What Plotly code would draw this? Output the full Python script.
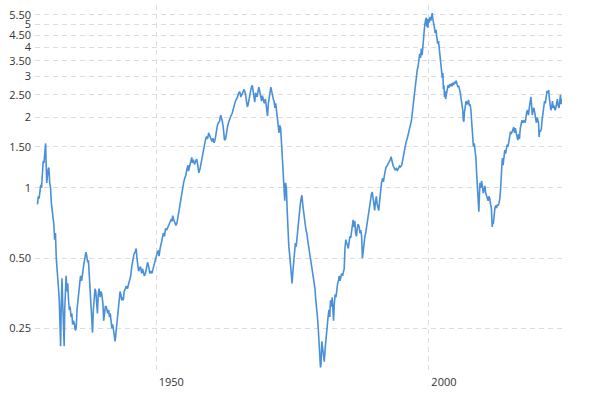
import plotly.graph_objects as go

years = [
1928.2,1928.35,1928.5,1928.65,1928.8,1928.95,1929.1,1929.25,1929.4,1929.55,1929.7,1929.8,1929.9,1930.0,1930.15,1930.3,1930.45,1930.6,1930.75,1930.9,
1931.05,1931.2,1931.35,1931.5,1931.65,1931.8,1931.95,1932.1,1932.2,1932.35,1932.45,1932.55,1932.7,1932.8,1932.9,1933.0,1933.1,1933.2,1933.3,1933.45,
1933.6,1933.75,1933.9,1934.05,1934.2,1934.35,1934.5,1934.65,1934.8,1935.0,1935.15,1935.3,1935.45,1935.6,1935.75,1935.9,1936.1,1936.3,1936.5,1936.7,
1936.9,1937.1,1937.25,1937.4,1937.55,1937.7,1937.85,1938.0,1938.15,1938.3,1938.45,1938.6,1938.75,1938.9,1939.05,1939.2,1939.35,1939.5,1939.7,1939.85,
1940.0,1940.2,1940.35,1940.5,1940.65,1940.8,1940.95,1941.1,1941.25,1941.4,1941.55,1941.7,1941.85,1942.0,1942.15,1942.3,1942.45,1942.6,1942.75,1942.9,
1943.05,1943.2,1943.35,1943.5,1943.65,1943.8,1943.95,1944.1,1944.3,1944.5,1944.7,1944.9,1945.1,1945.3,1945.5,1945.7,1945.9,1946.1,1946.3,1946.45,
1946.6,1946.75,1946.9,1947.1,1947.3,1947.45,1947.6,1947.8,1948.0,1948.2,1948.4,1948.6,1948.8,1949.0,1949.2,1949.4,1949.6,1949.8,1950.0,1950.2,
1950.4,1950.5,1950.7,1950.9,1951.1,1951.3,1951.5,1951.7,1951.9,1952.1,1952.3,1952.5,1952.7,1952.9,1953.0,1953.2,1953.4,1953.6,1953.8,1954.0,
1954.2,1954.4,1954.6,1954.8,1955.0,1955.2,1955.4,1955.6,1955.8,1955.9,1956.1,1956.3,1956.5,1956.6,1956.8,1957.0,1957.2,1957.4,1957.6,1957.8,
1958.0,1958.2,1958.4,1958.6,1958.8,1959.0,1959.2,1959.4,1959.6,1959.8,1960.0,1960.2,1960.4,1960.6,1960.8,1961.0,1961.2,1961.4,1961.6,1961.8,
1961.95,1962.1,1962.3,1962.5,1962.7,1962.9,1963.1,1963.3,1963.5,1963.7,1963.9,1964.1,1964.3,1964.5,1964.7,1964.9,1965.1,1965.3,1965.5,1965.7,
1965.9,1966.1,1966.3,1966.5,1966.7,1966.85,1967.0,1967.2,1967.4,1967.6,1967.75,1967.9,1968.05,1968.2,1968.35,1968.5,1968.65,1968.8,1968.95,1969.1,
1969.3,1969.45,1969.6,1969.8,1970.0,1970.2,1970.4,1970.55,1970.7,1970.85,1971.0,1971.15,1971.3,1971.45,1971.6,1971.75,1971.9,1972.05,1972.2,1972.35,
1972.5,1972.65,1972.8,1973.0,1973.15,1973.3,1973.45,1973.55,1973.7,1973.85,1974.0,1974.15,1974.3,1974.45,1974.6,1974.75,1974.9,1975.05,1975.2,1975.35,
1975.5,1975.65,1975.8,1975.95,1976.1,1976.25,1976.4,1976.55,1976.7,1976.85,1977.0,1977.15,1977.3,1977.45,1977.6,1977.75,1977.9,1978.05,1978.2,1978.35,
1978.5,1978.65,1978.8,1978.95,1979.1,1979.25,1979.4,1979.55,1979.7,1979.85,1980.0,1980.1,1980.2,1980.35,1980.5,1980.65,1980.8,1981.0,1981.2,1981.35,
1981.5,1981.65,1981.8,1981.95,1982.1,1982.25,1982.4,1982.5,1982.65,1982.8,1982.95,1983.1,1983.25,1983.4,1983.55,1983.7,1983.85,1984.0,1984.15,1984.3,
1984.45,1984.6,1984.75,1984.9,1985.05,1985.2,1985.35,1985.5,1985.65,1985.8,1985.95,1986.1,1986.25,1986.4,1986.55,1986.7,1986.85,1987.0,1987.2,1987.35,
1987.5,1987.65,1987.8,1987.95,1988.1,1988.25,1988.4,1988.55,1988.7,1988.85,1989.0,1989.15,1989.3,1989.45,1989.6,1989.75,1989.9,1990.05,1990.2,1990.35,
1990.5,1990.65,1990.8,1990.95,1991.1,1991.3,1991.5,1991.65,1991.8,1991.95,1992.1,1992.3,1992.5,1992.7,1992.9,1993.05,1993.2,1993.4,1993.6,1993.8,
1994.0,1994.2,1994.4,1994.6,1994.8,1995.0,1995.2,1995.4,1995.6,1995.8,1996.0,1996.2,1996.4,1996.6,1996.8,1997.0,1997.2,1997.4,1997.55,1997.7,
1997.85,1998.0,1998.15,1998.3,1998.45,1998.6,1998.75,1998.9,1999.05,1999.2,1999.35,1999.5,1999.6,1999.7,1999.8,1999.9,2000.05,2000.2,2000.35,2000.5,
2000.6,2000.7,2000.85,2001.0,2001.15,2001.3,2001.45,2001.6,2001.75,2001.9,2002.05,2002.2,2002.35,2002.45,2002.55,2002.65,2002.75,2002.85,2002.95,2003.05,
2003.2,2003.35,2003.5,2003.65,2003.8,2003.95,2004.1,2004.25,2004.4,2004.55,2004.7,2004.85,2005.0,2005.15,2005.3,2005.45,2005.6,2005.75,2005.9,2006.05,
2006.2,2006.3,2006.4,2006.5,2006.65,2006.8,2006.95,2007.1,2007.25,2007.4,2007.55,2007.7,2007.85,2008.0,2008.15,2008.3,2008.45,2008.6,2008.75,2008.85,
2008.95,2009.05,2009.15,2009.25,2009.35,2009.5,2009.65,2009.8,2009.95,2010.1,2010.25,2010.4,2010.55,2010.7,2010.85,2011.0,2011.15,2011.3,2011.45,2011.6,
2011.7,2011.8,2011.95,2012.1,2012.25,2012.4,2012.55,2012.7,2012.85,2013.0,2013.15,2013.3,2013.45,2013.6,2013.75,2013.9,2014.05,2014.2,2014.35,2014.5,
2014.65,2014.8,2014.95,2015.1,2015.25,2015.4,2015.55,2015.7,2015.85,2016.0,2016.15,2016.3,2016.45,2016.6,2016.75,2016.9,2017.05,2017.2,2017.35,2017.5,
2017.65,2017.8,2017.95,2018.1,2018.25,2018.4,2018.55,2018.7,2018.8,2018.95,2019.1,2019.25,2019.4,2019.55,2019.7,2019.85,2020.0,2020.1,2020.2,2020.3,
2020.45,2020.6,2020.75,2020.9,2021.05,2021.2,2021.35,2021.5,2021.65,2021.8,2021.95,2022.1,2022.2,2022.35,2022.5,2022.65,2022.8,2022.95,2023.1,2023.25,
2023.4,2023.55,2023.7,2023.85,2024.0,2024.12,2024.22,2024.32,2024.4,
]

ratio = [
0.85,0.92,0.90,0.97,1.03,1.00,1.25,1.30,1.28,1.40,1.55,1.25,1.05,1.10,1.20,1.22,1.05,1.00,0.86,0.80,
0.74,0.70,0.60,0.64,0.50,0.43,0.40,0.36,0.33,0.27,0.21,0.30,0.41,0.34,0.30,0.26,0.21,0.30,0.40,0.42,
0.36,0.39,0.33,0.30,0.31,0.28,0.29,0.26,0.27,0.26,0.245,0.25,0.30,0.33,0.36,0.38,0.42,0.40,0.45,0.47,
0.50,0.53,0.51,0.48,0.49,0.43,0.35,0.31,0.26,0.24,0.30,0.34,0.37,0.36,0.33,0.29,0.35,0.37,0.34,0.36,
0.35,0.32,0.27,0.30,0.31,0.31,0.30,0.29,0.30,0.28,0.29,0.27,0.25,0.26,0.24,0.23,0.22,0.24,0.26,0.28,
0.31,0.34,0.36,0.35,0.33,0.34,0.33,0.36,0.37,0.38,0.37,0.39,0.41,0.42,0.46,0.49,0.52,0.53,0.55,0.50,
0.46,0.44,0.45,0.46,0.43,0.45,0.44,0.42,0.43,0.45,0.48,0.46,0.43,0.44,0.43,0.45,0.47,0.48,0.50,0.53,
0.54,0.51,0.55,0.58,0.62,0.64,0.62,0.67,0.66,0.68,0.69,0.71,0.73,0.72,0.76,0.73,0.71,0.69,0.71,0.76,
0.82,0.86,0.92,0.97,1.05,1.10,1.13,1.20,1.25,1.18,1.24,1.30,1.35,1.28,1.32,1.26,1.30,1.33,1.25,1.16,
1.20,1.27,1.35,1.45,1.55,1.60,1.66,1.62,1.72,1.66,1.62,1.58,1.63,1.56,1.62,1.75,1.85,1.90,1.93,2.05,
2.00,1.93,1.80,1.60,1.62,1.75,1.85,1.92,2.00,2.04,2.08,2.18,2.28,2.35,2.40,2.45,2.55,2.58,2.45,2.52,
2.62,2.64,2.55,2.40,2.22,2.28,2.40,2.55,2.68,2.75,2.60,2.40,2.33,2.55,2.50,2.45,2.58,2.70,2.60,2.45,
2.35,2.48,2.38,2.30,2.40,2.25,2.03,2.30,2.40,2.55,2.70,2.60,2.45,2.40,2.35,2.20,2.30,2.15,2.00,1.85,
1.72,1.85,1.80,1.50,1.30,1.10,0.95,0.88,1.05,1.00,0.80,0.65,0.56,0.52,0.47,0.42,0.39,0.44,0.50,0.55,
0.58,0.56,0.62,0.68,0.75,0.80,0.85,0.90,0.93,0.85,0.78,0.72,0.70,0.66,0.64,0.60,0.57,0.55,0.52,0.48,
0.46,0.44,0.41,0.40,0.37,0.33,0.31,0.28,0.25,0.22,0.19,0.17,0.175,0.22,0.20,0.19,0.18,0.21,0.24,0.27,
0.28,0.30,0.28,0.33,0.31,0.34,0.30,0.27,0.32,0.35,0.34,0.37,0.39,0.40,0.42,0.40,0.42,0.43,0.42,0.44,
0.45,0.55,0.60,0.58,0.57,0.55,0.59,0.62,0.61,0.66,0.70,0.73,0.68,0.72,0.64,0.62,0.67,0.70,0.68,0.64,
0.66,0.62,0.50,0.55,0.58,0.62,0.64,0.68,0.70,0.74,0.80,0.86,0.90,0.94,0.96,0.88,0.84,0.80,0.88,0.92,
0.85,0.82,0.80,0.88,0.96,1.05,1.10,1.06,1.12,1.20,1.22,1.24,1.27,1.28,1.32,1.36,1.30,1.25,1.22,1.19,
1.21,1.19,1.21,1.24,1.23,1.25,1.32,1.42,1.52,1.57,1.62,1.70,1.74,1.82,1.95,2.15,2.35,2.60,2.90,3.10,
3.20,3.30,3.50,3.75,3.60,3.95,3.70,4.20,4.60,4.90,5.20,5.35,4.90,5.30,4.85,5.30,5.10,5.40,5.20,5.45,
5.60,5.30,4.95,4.85,4.60,4.75,4.40,4.15,4.25,3.90,3.70,3.40,3.20,2.95,3.10,2.65,2.75,2.45,2.60,2.40,
2.55,2.70,2.75,2.68,2.78,2.72,2.80,2.72,2.82,2.76,2.85,2.80,2.88,2.78,2.70,2.74,2.65,2.55,2.40,2.30,
2.15,1.95,1.92,2.10,2.20,2.35,2.28,2.30,2.38,2.25,2.28,2.15,1.90,1.70,1.50,1.55,1.45,1.35,1.15,1.05,
0.98,0.95,0.79,0.92,1.05,1.00,1.07,1.02,0.95,0.98,1.02,0.95,0.92,0.90,0.88,0.92,0.90,0.85,0.82,0.68,
0.72,0.70,0.78,0.82,0.84,0.82,0.85,0.84,0.86,0.90,1.00,1.20,1.34,1.25,1.35,1.45,1.40,1.45,1.53,1.50,
1.58,1.65,1.74,1.70,1.75,1.78,1.82,1.72,1.80,1.72,1.65,1.60,1.70,1.62,1.80,1.92,1.95,1.90,1.93,1.95,
1.90,2.05,2.12,2.15,2.05,2.20,2.30,2.45,2.30,2.05,2.15,2.20,2.10,1.95,1.90,2.00,1.95,1.90,1.65,1.75,
1.75,1.78,1.95,2.05,2.15,2.35,2.30,2.45,2.60,2.55,2.62,2.40,2.25,2.15,2.20,2.35,2.20,2.25,2.15,2.18,
2.30,2.40,2.25,2.20,2.35,2.50,2.28,2.40,2.30,
]

tick_vals = [0.25, 0.5, 1, 1.5, 2, 2.5, 3, 3.5, 4, 4.5, 5, 5.5]
tick_text = ["0.25", "0.50", "1", "1.50", "2", "2.50", "3", "3.50", "4", "4.50", "5", "5.50"]
x_ticks = [1950, 2000]
x_tick_text = ["1950", "2000"]

fig = go.Figure()
fig.add_trace(go.Scatter(
    x=years, y=ratio, mode="lines",
    line=dict(color="#4a90d9", width=1.6),
    hoverinfo="skip", showlegend=False,
))

grid = "#dcdcdc"
fig.update_layout(
    width=600, height=399, autosize=False,
    margin=dict(l=35, r=38, t=5, b=29, pad=0),
    paper_bgcolor="white", plot_bgcolor="white",
    font=dict(family="Open Sans, DejaVu Sans, sans-serif", size=11, color="#333333"),
    xaxis=dict(
        range=[1927.75, 2024.4], automargin=False,
        tickvals=x_ticks, ticktext=x_tick_text,
        showgrid=True, gridcolor=grid, griddash="5px,4px", gridwidth=1,
        zeroline=False, showline=False, ticks="",
        ticklabelshift=15, ticklabelstandoff=4,
    ),
    yaxis=dict(
        type="log", range=[-0.780, 0.783], automargin=False,
        tickvals=tick_vals, ticktext=tick_text,
        showgrid=True, gridcolor=grid, griddash="5px,4px", gridwidth=1,
        zeroline=False, showline=False, ticks="",
        ticklabelstandoff=3,
    ),
)

fig.write_html("out.html", config={"displayModeBar": False},
               post_script="document.body.style.margin='0';")
